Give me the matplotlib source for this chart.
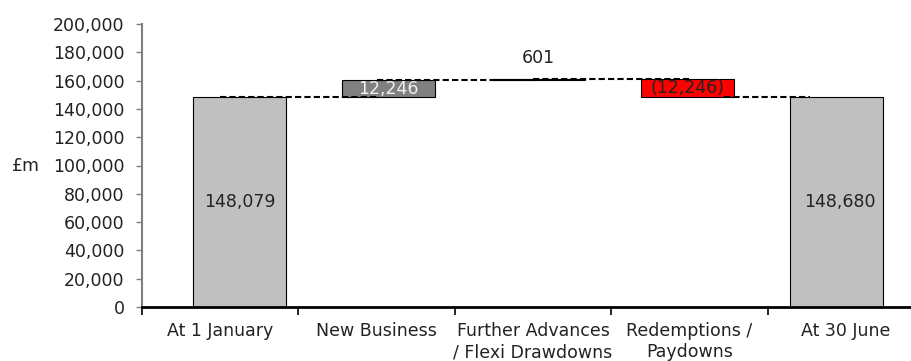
import matplotlib.pyplot as plt
import numpy as np

plt.rcParams['font.family'] = ['DejaVu Sans']

categories = ['At 1 January', 'New Business', 'Further Advances\n/ Flexi Drawdowns',
              'Redemptions /\nPaydowns', 'At 30 June']
opening = 148079
movements = [12246, 601, -12246]
closing = 148680
value_labels = ['148,079', '12,246', '601', '(12,246)', '148,680']
colors = ['#c0c0c0', '#808080', '#808080', '#ff0000', '#c0c0c0']
text_colors = ['#222222', '#f0f0f0', '#222222', '#222222', '#222222']

# running totals for the floating bars
levels = list(np.cumsum([opening] + movements))
bottoms = [0] + [min(levels[i], levels[i + 1]) for i in range(3)] + [0]
heights = [opening] + [abs(m) for m in movements] + [closing]
tops = [b + h for b, h in zip(bottoms, heights)]

fig = plt.figure(figsize=(9.12, 3.61), dpi=100)
ax = fig.add_axes([142 / 912, 54 / 361, 782 / 912, 283 / 361])

pos = np.arange(5) * 0.955 + 0.123
ax.bar(pos, heights, bottom=bottoms, width=0.594, color=colors,
       edgecolor='black', linewidth=0.8, zorder=2)

# dashed connectors between bar tops
conn = levels[:3] + [closing]
for i in range(4):
    x0, x1 = i, i + 1
    if i == 3:
        x0, x1 = 3.22, 3.77
    ax.plot([x0, x1], [conn[i], conn[i]], color='black', linestyle=(0, (3, 1.5)),
            linewidth=1.5, zorder=3)

fs = 12.5
for i in range(5):
    if i == 2:
        y = tops[i] + 15000
    else:
        y = bottoms[i] + heights[i] / 2
    ax.text(pos[i] + (0.02 if i == 4 else 0), y, value_labels[i], ha='center', va='center',
            fontsize=fs, color=text_colors[i], zorder=4)

ax.set_xlim(-0.5, 4.5)
ax.set_ylim(0, 200000)
ax.set_yticks(np.arange(0, 200001, 20000))
ax.set_yticklabels([f'{v:,}' for v in range(0, 200001, 20000)])
ax.set_xticks(np.arange(5))
ax.set_xticklabels(categories)
ax.set_xticks(np.arange(-0.5, 5, 1), minor=True)
ax.tick_params(axis='x', which='major', length=0, pad=11, labelsize=fs, labelcolor='#222222')
ax.tick_params(axis='x', which='minor', length=6, width=1.2, color='black')
ax.tick_params(axis='y', length=4.5, width=1, color='#808080', labelsize=fs,
               labelcolor='#222222', pad=8)

for s in ['top', 'right']:
    ax.spines[s].set_visible(False)
ax.spines['left'].set_color('#808080')
ax.spines['left'].set_linewidth(1.5)
ax.spines['bottom'].set_color('black')
ax.spines['bottom'].set_linewidth(2)

fig.text(26 / 912, 1 - 166 / 361, '£m', ha='center', va='center', fontsize=fs, color='#222222')

fig.savefig('out.png', dpi=100)
